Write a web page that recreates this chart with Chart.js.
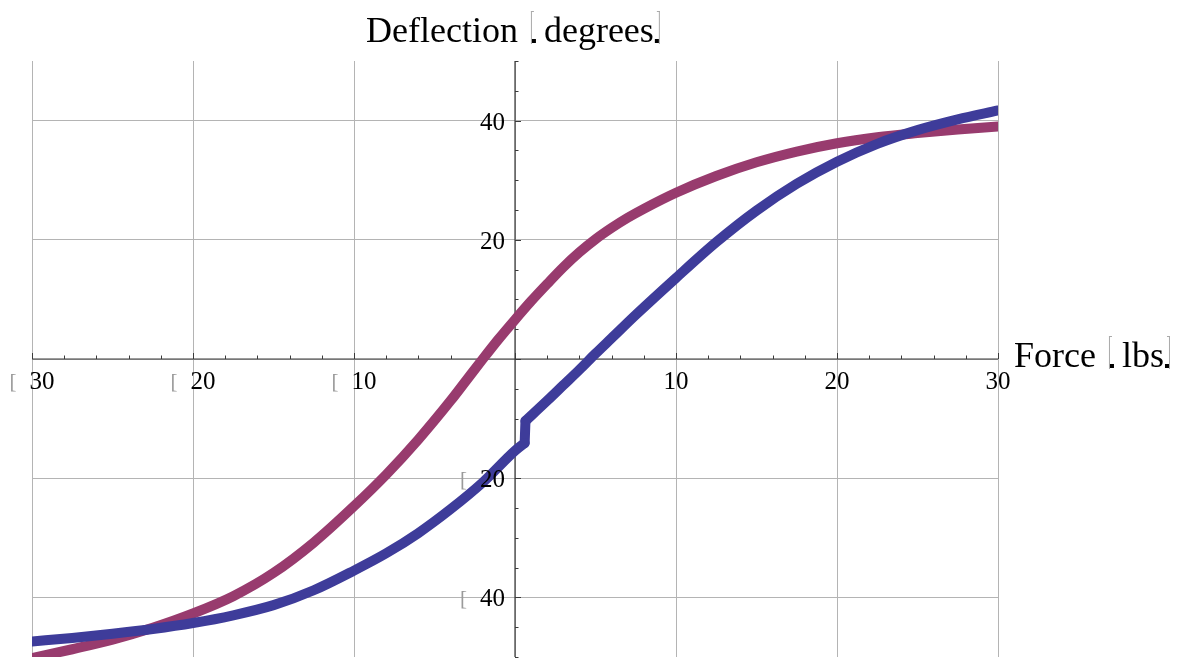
<!DOCTYPE html>
<html>
<head>
  <title>Deflection vs Force</title>
  <script src="https://cdn.jsdelivr.net/npm/chart.js"></script>
  <style>
    body { margin: 0; background: #fff; }
  </style>
</head>
<body>
  <canvas id="chart" width="1180" height="660"></canvas>

  <script>
    // blue curve, with the small step just right of zero
    const forceA = [-30, -27.5, -25, -22.5, -20, -17.5, -15, -12.5, -10, -8, -6, -4, -2, 0, 0.6, 0.65, 2, 3, 4, 5, 6, 7.5, 10, 12.5, 15, 17.5, 20, 22.5, 25, 27.5, 30];
    const deflectionA = [-47.4, -46.8, -46.1, -45.3, -44.3, -43.0, -41.3, -38.8, -35.5, -32.6, -29.2, -25.2, -20.7, -15.4, -14.1, -10.4, -7.0, -4.4, -1.8, 0.9, 3.5, 7.4, 13.6, 19.6, 24.9, 29.4, 33.1, 36.1, 38.4, 40.2, 41.7];
    const stepForce = 0.6;

    // magenta curve
    const forceB = [-30, -27.5, -25, -22.5, -20, -17.5, -15, -12.5, -10, -8, -6, -4, -3, -2, -1, 0, 1, 2, 3, 4, 5, 6, 7, 8, 10, 12.5, 15, 17.5, 20, 22.5, 25, 27.5, 30];
    const deflectionB = [-50.2, -48.7, -47.1, -45.1, -42.7, -39.8, -35.9, -30.8, -24.7, -19.4, -13.5, -7.0, -3.5, 0, 3.4, 6.6, 9.7, 12.6, 15.4, 17.9, 20.1, 22.0, 23.7, 25.2, 27.9, 30.7, 33.0, 34.8, 36.2, 37.2, 37.9, 38.5, 39.0];

    const xTicks = [-30, -20, -10, 10, 20, 30];
    const yTicks = [-40, -20, 20, 40];
    const xGrid = [-30, -20, -10, 0, 10, 20, 30];
    const yGrid = [-40, -20, 0, 20, 40];

    const FONT = '"Liberation Serif", "Times New Roman", serif';

    const pts = (xs, ys) => xs.map((x, i) => ({ x, y: ys[i] }));

    // gray box that stands in for the minus sign
    function minusBox(ctx, left, baseline) {
      ctx.save();
      ctx.fillStyle = '#9a9a9a';
      ctx.font = '21px ' + FONT;
      ctx.textAlign = 'left';
      ctx.fillText('[', left, baseline);
      ctx.restore();
    }

    const crossAxes = {
      id: 'crossAxes',
      beforeDatasetsDraw(chart) {
        const { ctx, chartArea: a, scales: { x, y } } = chart;
        const x0 = x.getPixelForValue(0), y0 = y.getPixelForValue(0);
        ctx.save();
        ctx.strokeStyle = '#3a3a3a';
        ctx.lineWidth = 1.2;
        ctx.beginPath();
        ctx.moveTo(a.left, y0); ctx.lineTo(a.right, y0);
        ctx.moveTo(x0, a.top); ctx.lineTo(x0, a.bottom);
        ctx.stroke();

        ctx.lineWidth = 1;
        ctx.beginPath();
        for (let v = -30; v <= 30; v += 2) {
          const px = Math.round(x.getPixelForValue(v)) + 0.5;
          const len = v % 10 === 0 ? 6 : 3.5;
          ctx.moveTo(px, y0); ctx.lineTo(px, y0 - len);
        }
        for (let v = -50; v <= 50; v += 5) {
          const py = Math.round(y.getPixelForValue(v)) + 0.5;
          const len = v % 20 === 0 ? 6 : 3.5;
          ctx.moveTo(x0, py); ctx.lineTo(x0 + len, py);
        }
        ctx.stroke();
        ctx.restore();
      },
      afterDraw(chart) {
        const { ctx, scales: { x, y } } = chart;
        const x0 = x.getPixelForValue(0), y0 = y.getPixelForValue(0);
        const slot = 20;
        ctx.save();
        ctx.fillStyle = '#000';
        ctx.font = '25px ' + FONT;
        ctx.textAlign = 'left';

        // horizontal axis labels, centred under each tick
        xTicks.forEach(v => {
          const txt = String(Math.abs(v));
          const w = ctx.measureText(txt).width + (v < 0 ? slot : 0);
          let left = x.getPixelForValue(v) - w / 2;
          const base = y0 + 30;
          if (v < 0) { minusBox(ctx, left, base - 1); left += slot; }
          ctx.fillText(txt, left, base);
        });

        // vertical axis labels, right-aligned next to the axis
        yTicks.forEach(v => {
          const txt = String(Math.abs(v));
          const w = ctx.measureText(txt).width + (v < 0 ? slot : 0);
          let left = x0 - 10 - w;
          const base = y.getPixelForValue(v) + 9;
          if (v < 0) { minusBox(ctx, left, base - 1); left += slot; }
          ctx.fillText(txt, left, base);
        });

        // axis titles with their unit brackets
        ctx.font = '36px ' + FONT;
        const unitTitle = (name, unit, left, base) => {
          ctx.fillStyle = '#000';
          ctx.fillText(name, left, base);
          let bx = left + ctx.measureText(name).width + 13;
          ctx.fillStyle = '#aaa';
          ctx.fillRect(bx, base - 31, 1, 33);
          ctx.fillRect(bx, base - 31, 3, 1);
          ctx.fillStyle = '#000';
          ctx.fillRect(bx + 1, base - 3, 4, 4);
          const ux = bx + 13;
          ctx.fillText(unit, ux, base);
          bx = ux + ctx.measureText(unit).width + 1;
          ctx.fillStyle = '#aaa';
          ctx.fillRect(bx + 4, base - 31, 1, 33);
          ctx.fillRect(bx + 2, base - 31, 3, 1);
          ctx.fillStyle = '#000';
          ctx.fillRect(bx, base - 3, 4, 4);
        };
        unitTitle('Deflection', 'degrees', 366, 42);
        unitTitle('Force', 'lbs', 1014, 367);
        ctx.restore();
      }
    };

    const line = (data, color) => ({
      data,
      borderColor: color,
      borderWidth: 10,
      showLine: true,
      cubicInterpolationMode: 'monotone',
      pointRadius: 0,
      borderJoinStyle: 'round',
      borderCapStyle: 'round'
    });

    // the blue curve is drawn in three pieces so the step keeps its sharp bends
    const blue = pts(forceA, deflectionA);
    const s = forceA.indexOf(stepForce);
    const BLUE = '#3e3c9a', MAGENTA = '#983b6e';

    const ctx = document.getElementById('chart').getContext('2d');
    new Chart(ctx, {
      type: 'scatter',
      data: {
        datasets: [
          line(blue.slice(0, s + 1), BLUE),
          line(blue.slice(s, s + 2), BLUE),
          line(blue.slice(s + 1), BLUE),
          line(pts(forceB, deflectionB), MAGENTA)
        ]
      },
      options: {
        responsive: false,
        animation: false,
        layout: { padding: { left: 32, right: 182, top: 61, bottom: 3 } },
        plugins: { legend: { display: false }, tooltip: { enabled: false } },
        scales: {
          x: {
            type: 'linear', min: -30, max: 30,
            afterBuildTicks: sc => { sc.ticks = xGrid.map(value => ({ value })); },
            ticks: { display: false },
            border: { display: false },
            grid: { color: '#b4b4b4', lineWidth: 1, drawTicks: false }
          },
          y: {
            type: 'linear', min: -50, max: 50,
            afterBuildTicks: sc => { sc.ticks = yGrid.map(value => ({ value })); },
            ticks: { display: false },
            border: { display: false },
            grid: { color: '#b4b4b4', lineWidth: 1, drawTicks: false }
          }
        }
      },
      plugins: [crossAxes]
    });
  </script>
</body>
</html>
